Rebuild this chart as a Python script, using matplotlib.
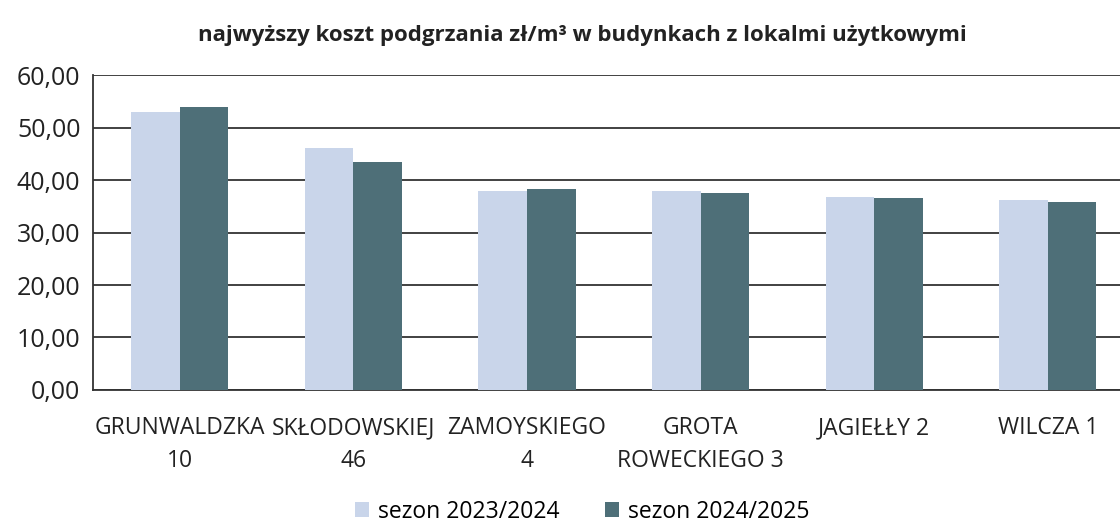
import matplotlib.pyplot as plt
import numpy as np

plt.rcParams['font.family'] = ['Open Sans', 'DejaVu Sans']

categories = ['GRUNWALDZKA\n10', 'SKŁODOWSKIEJ\n46', 'ZAMOYSKIEGO\n4',
              'GROTA\nROWECKIEGO 3', 'JAGIEŁŁY 2', 'WILCZA 1']
sezon_2023 = [53.0, 46.2, 38.0, 38.0, 36.8, 36.2]
sezon_2024 = [54.0, 43.5, 38.3, 37.6, 36.6, 35.8]
yticks = [0, 10, 20, 30, 40, 50, 60]

fig = plt.figure(figsize=(11.2, 5.22), dpi=100)
ax = fig.add_axes([0.083, 0.253, 0.93, 0.603])

x = np.arange(len(categories))
w = 0.28
ax.bar(x - w / 2, sezon_2023, w, color='#c9d5ea', label='sezon 2023/2024', zorder=3)
ax.bar(x + w / 2, sezon_2024, w, color='#4e6f78', label='sezon 2024/2025', zorder=3)

ax.set_ylim(0, 60)
ax.set_xlim(-0.5, len(categories) - 0.5)
ax.set_yticks(yticks)
ax.set_yticklabels(['%d,00' % v for v in yticks], fontsize=18, color='#222222')
ax.set_xticks(x)
ax.set_xticklabels(categories, fontsize=16.5, color='#222222', linespacing=1.5)
ax.tick_params(axis='y', length=0, pad=9)
ax.tick_params(axis='x', length=0, pad=19)
ax.grid(axis='y', color='#333333', linewidth=1.3, zorder=0)
for s in ['top', 'right']:
    ax.spines[s].set_visible(False)
ax.spines['left'].set_color('#333333')
ax.spines['bottom'].set_color('#333333')
ax.spines['left'].set_linewidth(1.3)
ax.spines['bottom'].set_linewidth(1.3)

fig.text(0.52, 0.932, 'najwyższy koszt podgrzania zł/m³ w budynkach z lokalmi użytkowymi',
         ha='center', va='center', fontsize=16, fontweight='bold', color='#222222')
fig.legend(loc='center', bbox_to_anchor=(0.52, 0.02), ncol=2, frameon=False,
           fontsize=16.5, handlelength=0.6, handleheight=0.6, handletextpad=0.4,
           columnspacing=2.0)

fig.savefig('out.png', dpi=100)
